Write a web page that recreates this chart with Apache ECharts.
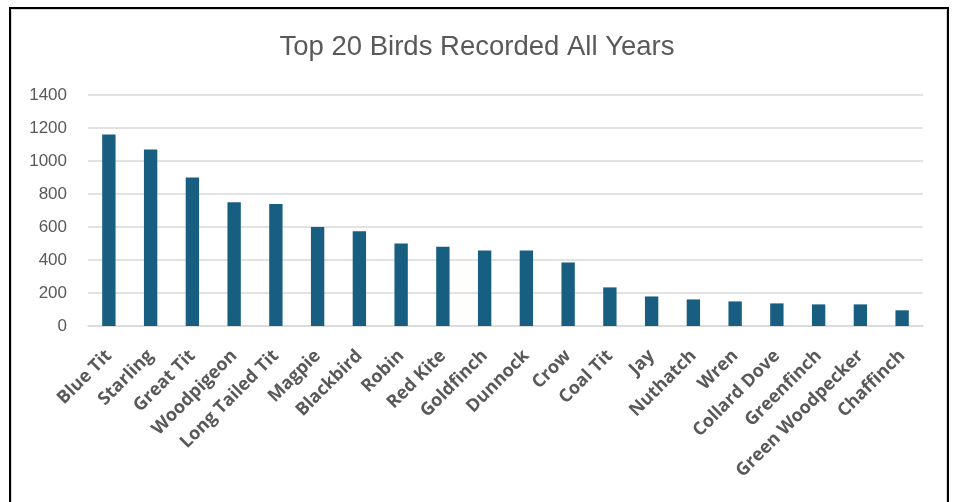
<!DOCTYPE html>
<html>
<head>
<meta charset="utf-8">
<script src="https://cdn.jsdelivr.net/npm/echarts@6/dist/echarts.min.js"></script>
<style>
  html, body { margin: 0; padding: 0; background: #fff; }
  #frame {
    position: absolute; left: 9px; top: 7px; width: 936px; height: 520px;
    border: 2px solid #000; border-bottom: none;
  }
  #inner {
    position: absolute; left: 0; top: 0; right: 0; bottom: 0;
    border: 1px solid #d9d9d9; border-bottom: none;
  }
  #bird_chart { position: absolute; left: 0; top: 0; width: 954px; height: 502px; }
</style>
</head>
<body>
<div id="frame"><div id="inner"></div></div>
<div id="bird_chart"></div>
<script>
// 鸟类名称（按记录数排序）
const birdNames = ['Blue Tit', 'Starling', 'Great Tit', 'Woodpigeon', 'Long Tailed Tit',
    'Magpie', 'Blackbird', 'Robin', 'Red Kite', 'Goldfinch', 'Dunnock', 'Crow',
    'Coal Tit', 'Jay', 'Nuthatch', 'Wren', 'Collard Dove', 'Greenfinch',
    'Green Woodpecker', 'Chaffinch']
const birdCounts = [1160, 1070, 900, 750, 740, 600, 575, 500, 480, 457, 457, 385,
    234, 179, 161, 149, 137, 131, 131, 95]
const yTicks = [0, 200, 400, 600, 800, 1000, 1200, 1400]

const chartInstance = echarts.init(document.getElementById('bird_chart'), null, { renderer: 'canvas' })
const textColor = '#595959'
const option = {
    backgroundColor: 'transparent',
    animation: false,
    title: {
        text: 'Top 20 Birds Recorded All Years',
        left: 'center',
        top: 28,
        textStyle: {
            color: textColor,
            fontFamily: 'Liberation Sans',
            fontWeight: 'normal',
            fontSize: 27.5
        }
    },
    grid: {
        left: 88,
        right: 31,
        top: 95,
        bottom: 176,
        containLabel: false
    },
    xAxis: {
        type: 'category',
        data: birdNames,
        axisTick: { show: false },
        axisLine: { lineStyle: { color: '#d9d9d9', width: 1.5 } },
        axisLabel: {
            interval: 0,
            rotate: 45,
            margin: 27,
            color: textColor,
            fontFamily: 'Open Sans',
            fontWeight: 'bold',
            fontSize: 18
        }
    },
    yAxis: {
        type: 'value',
        min: yTicks[0],
        max: yTicks[yTicks.length - 1],
        interval: 200,
        axisLine: { show: false },
        axisTick: { show: false },
        splitLine: { lineStyle: { color: '#d9d9d9', width: 1.5 } },
        axisLabel: {
            margin: 21,
            color: textColor,
            fontFamily: 'Liberation Sans',
            fontSize: 17,
            formatter: v => String(v)
        }
    },
    series: [
        {
            type: 'bar',
            data: birdCounts,
            barWidth: '32%',
            itemStyle: { color: '#185e81' }
        }
    ]
}
chartInstance.setOption(option)
</script>
</body>
</html>
